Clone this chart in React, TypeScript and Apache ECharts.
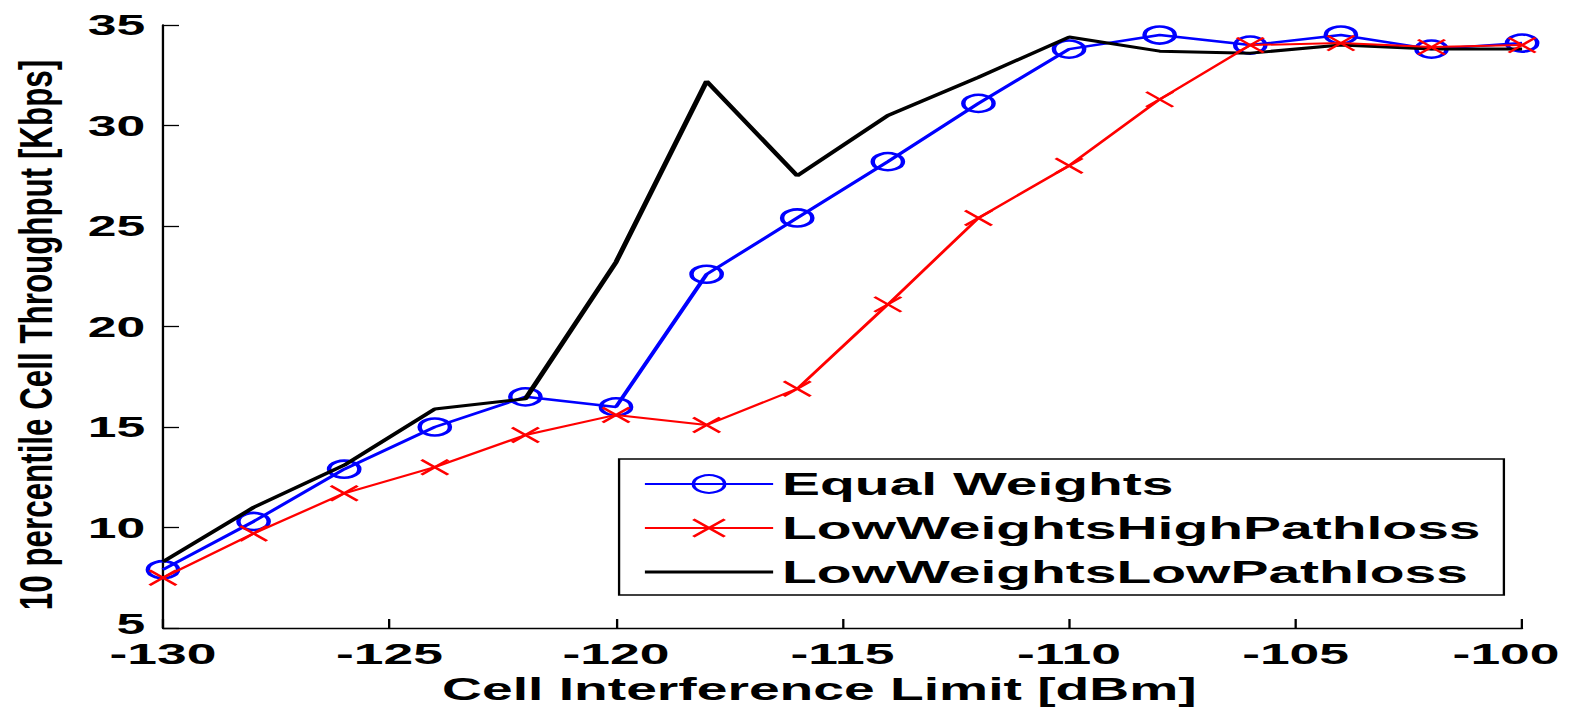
import React, { useEffect, useRef } from "react";
import * as echarts from "echarts";

// ---------- data ----------
const xValues = [-130, -128, -126, -124, -122, -120, -118, -116, -114, -112, -110, -108, -106, -104, -102, -100];
const equalWeights = [7.9, 10.3, 12.9, 15.0, 16.5, 16.0, 22.6, 25.4, 28.2, 31.1, 33.8, 34.5, 34.0, 34.5, 33.8, 34.1];
const lowWeightsHighPathloss = [7.5, 9.7, 11.7, 13.0, 14.6, 15.6, 15.1, 16.9, 21.1, 25.4, 28.0, 31.3, 34.0, 34.1, 33.9, 34.0];
const lowWeightsLowPathloss = [8.3, 11.0, 13.1, 15.9, 16.4, 23.2, 32.2, 27.5, 30.5, 32.4, 34.4, 33.7, 33.6, 34.0, 33.8, 33.8];
const seriesNames = ["Equal Weights", "LowWeightsHighPathloss", "LowWeightsLowPathloss"];
const xTitle = "Cell Interference Limit [dBm]";
const yTitle = "10 percentile Cell Throughput [Kbps]";
const xRange = [-130, -100];
const yRange = [5, 35];
const tickStep = 5;

// ---------- layout ----------
const FULL_W = 1569;
const FULL_H = 708;
const STRETCH = 1.781;
const W = FULL_W / STRETCH;
const FONT = "'Liberation Sans', Arial, Helvetica, sans-serif";

const toPairs = (ys: number[]) => xValues.map((x, i) => [x, ys[i]]);

export default function App() {
  const ref = useRef<HTMLDivElement>(null);

  useEffect(() => {
    if (!ref.current) return;
    const chart = echarts.init(ref.current, undefined, { renderer: "svg" });
    const axisCommon = {
      type: "value" as const,
      interval: tickStep,
      splitLine: { show: false },
      axisLine: { show: true, onZero: false, lineStyle: { color: "#000", width: 1.3 } },
      axisTick: { show: true, inside: true, length: 9, lineStyle: { color: "#000", width: 1.3 } },
    };
    const xLabelFont = { fontSize: 30, fontWeight: "bold" as const, color: "#000", fontFamily: FONT };
    const yLabelFont = { fontSize: 29, fontWeight: "bold" as const, color: "#000", fontFamily: FONT };
    chart.setOption({
      animation: false,
      backgroundColor: "#fff",
      grid: { left: 91.5, right: W - 854.6, top: 25, bottom: 80, outerBoundsMode: "none" },
      xAxis: {
        ...axisCommon,
        min: xRange[0],
        max: xRange[1],
        axisLabel: {
          ...xLabelFont,
          margin: 11,
          formatter: (v: number) => (v === xRange[1] ? `{last|${v}}` : `${v}`),
          rich: { last: { ...xLabelFont, padding: [0, 18, 0, 0] } },
        },
        name: xTitle,
        nameLocation: "middle",
        nameGap: 44,
        nameTextStyle: { fontSize: 31, fontWeight: "bold", color: "#000", fontFamily: FONT, padding: [0, 26, 0, 0] },
      },
      yAxis: {
        ...axisCommon,
        min: yRange[0],
        max: yRange[1],
        axisLabel: {
          ...yLabelFont,
          margin: 10,
          formatter: (v: number) => (v === yRange[0] ? `{first|${v}}` : `${v}`),
          rich: { first: { ...yLabelFont, padding: [0, 0, 8, 0] } },
        },
      },
      legend: {
        orient: "vertical",
        left: 347.6,
        top: 459,
        itemWidth: 72,
        itemHeight: 22,
        itemGap: 12,
        padding: [9, 13, 7, 13.5],
        borderColor: "#000",
        borderWidth: 1.3,
        backgroundColor: "#fff",
        textStyle: { fontSize: 32, fontWeight: "bold", color: "#000", fontFamily: FONT },
        data: [
          { name: seriesNames[0] },
          { name: seriesNames[1] },
          { name: seriesNames[2], icon: "path://M0 0H72V3H0Z" },
        ],
      },
      graphic: [
        {
          type: "text",
          x: 20.5,
          y: 335,
          rotation: Math.PI / 2,
          scaleX: 0.98,
          scaleY: 0.8,
          style: {
            text: yTitle,
            fontSize: 32,
            fontWeight: "bold",
            fontFamily: FONT,
            fill: "#000",
            align: "center",
            verticalAlign: "middle",
          },
        },
      ],
      series: [
        {
          name: seriesNames[0],
          type: "line",
          z: 2,
          data: toPairs(equalWeights),
          symbol: "circle",
          symbolSize: 17,
          showAllSymbol: true,
          lineStyle: { color: "#0000ff", width: 2.5 },
          itemStyle: { color: "rgba(0,0,0,0)", borderColor: "#0000ff", borderWidth: 2.5 },
        },
        {
          name: seriesNames[1],
          type: "line",
          z: 4,
          data: toPairs(lowWeightsHighPathloss),
          symbol: "path://M0 0L10 10M10 0L0 10",
          symbolSize: 15,
          showAllSymbol: true,
          lineStyle: { color: "#ff0000", width: 2 },
          itemStyle: { color: "rgba(0,0,0,0)", borderColor: "#ff0000", borderWidth: 2 },
        },
        {
          name: seriesNames[2],
          type: "line",
          z: 3,
          data: toPairs(lowWeightsLowPathloss),
          symbol: "none",
          lineStyle: { color: "#000000", width: 3 },
          itemStyle: { color: "#000000" },
        },
      ],
    });
    return () => chart.dispose();
  }, []);

  return (
    <div
      style={{
        position: "absolute",
        left: 0,
        top: 0,
        width: FULL_W,
        height: FULL_H,
        overflow: "hidden",
        background: "#fff",
      }}
    >
      <div
        ref={ref}
        style={{
          width: W,
          height: FULL_H,
          transform: `scaleX(${STRETCH})`,
          transformOrigin: "0 0",
        }}
      />
    </div>
  );
}
